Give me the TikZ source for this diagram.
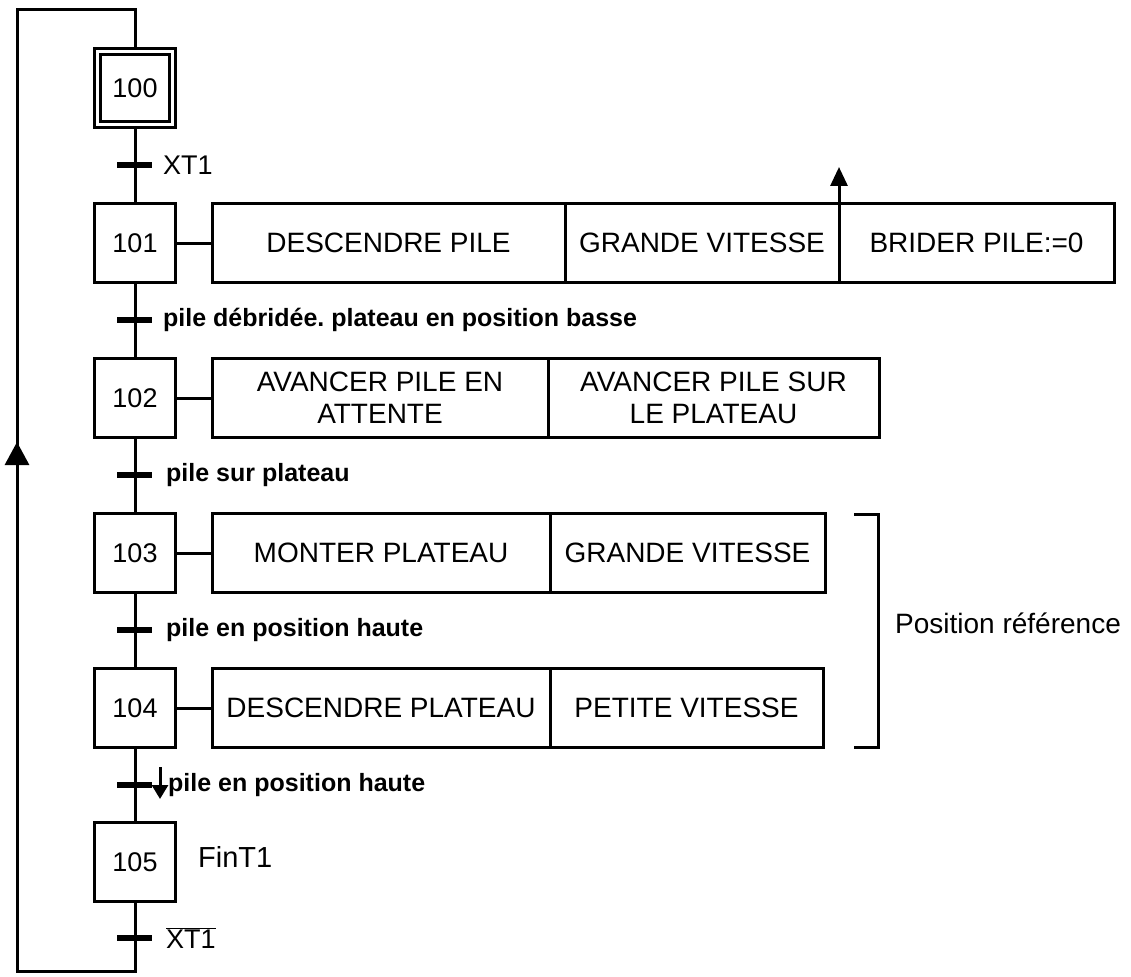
\documentclass[tikz,border=0pt]{standalone}
\usepackage{fontspec}
\setmainfont{Liberation Sans}
\usepackage{tikz}
\usetikzlibrary{arrows.meta,positioning}
\frenchspacing

\tikzset{
  ligne/.style={line width=3pt},
  etape/.style={draw, line width=3pt, minimum width=81pt, minimum height=79pt,
    inner sep=0pt, font=\fontsize{27}{30}\selectfont},
  action/.style={draw, line width=3pt, minimum height=79pt, inner sep=0pt,
    outer sep=0pt, anchor=west, align=center, font=\fontsize{28}{32}\selectfont},
  recep/.style={anchor=west, inner sep=0pt, font=\bfseries\fontsize{25}{30}\selectfont},
  barre/.style={line width=6pt},
}

\begin{document}
\begin{tikzpicture}[x=1pt,y=-1pt]
\useasboundingbox (0,0) rectangle (1131,976);

% etapes
\node[etape] (e100) at (135,88) {100};
\draw[line width=3.5pt] ([shift={(7.5pt,-7.5pt)}]e100.north west) rectangle ([shift={(-7.5pt,7.5pt)}]e100.south east);
\foreach \n/\y in {101/243,102/398,103/553,104/708,105/862}
    \node[etape] (e\n) at (135,\y) {\n};

\foreach \a/\b in {100/101,101/102,102/103,103/104,104/105}
    \draw[ligne] (e\a) -- (e\b);

% receptivites
\foreach \y in {165,320,475,630,785,938}
    \draw[barre] (117,\y) -- (152,\y);
\node[recep, font=\fontsize{27}{30}\selectfont] (r1) at (163,165) {XT1};
\node[recep] (r2) at (163,320) {pile débridée. plateau en position basse};
\node[recep] (r3) at (166,475) {pile sur plateau};
\node[recep] (r4) at (166,630) {pile en position haute};
\node[recep] (r5) at (168,785) {pile en position haute};
\node[recep, font=\fontsize{27}{30}\selectfont] (r6) at (166,938) {$\overline{\mbox{XT1}}$};

% actions
\node[action, minimum width=353pt] (a1a) at (212,243) {DESCENDRE PILE};
\node[action, minimum width=274pt] (a1b) at (a1a.east) {GRANDE VITESSE};
\node[action, minimum width=275pt] (a1c) at (a1b.east) {BRIDER PILE:=0};
\node[action, minimum width=336pt] (a2a) at (212,398) {AVANCER PILE EN\\ATTENTE};
\node[action, minimum width=331pt] (a2b) at (a2a.east) {AVANCER PILE SUR\\LE PLATEAU};
\node[action, minimum width=338pt] (a3a) at (212,553) {MONTER PLATEAU};
\node[action, minimum width=275pt] (a3b) at (a3a.east) {GRANDE VITESSE};
\node[action, minimum width=338pt] (a4a) at (212,708) {DESCENDRE PLATEAU};
\node[action, minimum width=273pt] (a4b) at (a4a.east) {PETITE VITESSE};
\node[anchor=west, inner sep=0pt, font=\fontsize{29}{32}\selectfont] (fin) at (198,857) {FinT1};

\foreach \e/\a in {101/a1a,102/a2a,103/a3a,104/a4a}
    \draw[ligne] (e\e) -- (\a);

\coordinate (brid) at (839,167);
\draw[ligne, -{Triangle[width=17pt,length=19pt]}] (a1b.south east) -- (brid);

\coordinate (descH) at (160,767);
\coordinate (descB) at (160,799);
\draw[ligne, -{Triangle[width=16pt,length=14pt]}] (descH) -- (descB);

% bouclage
\coordinate (hautD) at (135,10);
\coordinate (hautG) at (17,10);
\coordinate (basG) at (17,971);
\coordinate (basD) at (135,971);
\coordinate (flecheG) at (17,442);
\draw[ligne, line join=miter] (e105) -- (basD) -- (basG) -- (hautG) -- (hautD) -- (e100);
\draw[ligne, -{Triangle[width=24pt,length=23pt]}] (basG) -- (flecheG);

% accolade
\draw[ligne] (854,514) -- (878,514) -- (878,747) -- (854,747);
\node[anchor=west, inner sep=0pt, font=\fontsize{28}{32}\selectfont] (posref) at (895,623) {Position référence};
\end{tikzpicture}
\end{document}
